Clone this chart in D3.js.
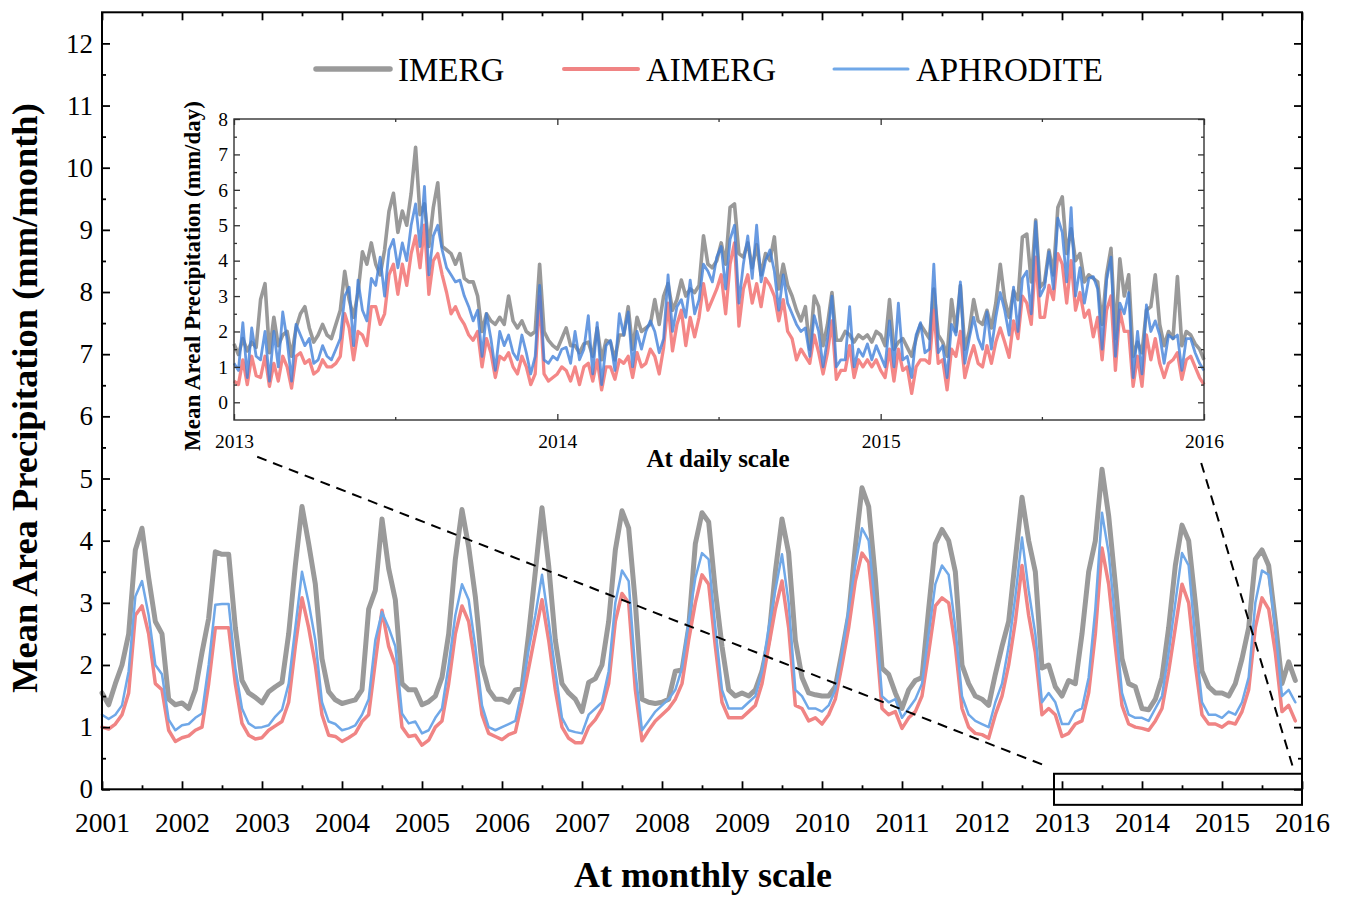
<!DOCTYPE html>
<html>
<head>
<meta charset="utf-8">
<script src="https://cdn.jsdelivr.net/npm/d3@7"></script>
<style>
  body { margin: 0; background: #fff; }
  text { font-family: "Liberation Serif", "Times New Roman", serif; fill: #000; }
</style>
</head>
<body>
<svg id="chart" width="1348" height="898"></svg>
<script>
// ---------- monthly mean area precipitation, Jan 2001 – Dec 2015 ----------
const startYear = 2001;
const endYear = 2016;
const yearTicks = d3.range(2001, 2017);

const imergMonthly = [
  1.55,1.36,1.7,2.0,2.5,3.85,4.2,3.4,2.7,2.5,1.45,1.36,
  1.39,1.3,1.6,2.2,2.75,3.82,3.78,3.78,2.6,1.75,1.55,1.48,
  1.39,1.57,1.65,1.72,2.5,3.6,4.55,3.95,3.3,2.1,1.57,1.44,
  1.38,1.41,1.44,1.6,2.9,3.2,4.35,3.55,3.05,1.7,1.6,1.6,
  1.36,1.41,1.5,1.8,2.5,3.7,4.5,3.9,3.1,2.0,1.6,1.45,
  1.45,1.4,1.6,1.62,2.5,3.5,4.53,3.6,2.4,1.7,1.55,1.45,
  1.25,1.72,1.78,2.0,2.7,3.85,4.48,4.2,3.0,1.45,1.4,1.38,
  1.4,1.45,1.9,1.92,2.6,3.95,4.45,4.3,3.2,2.3,1.6,1.5,
  1.55,1.5,1.6,1.9,2.4,3.5,4.35,3.8,2.4,1.8,1.55,1.52,
  1.5,1.5,1.65,2.2,2.8,3.9,4.85,4.55,3.4,1.95,1.85,1.55,
  1.3,1.6,1.75,1.8,2.9,3.95,4.18,4.0,3.5,2.0,1.7,1.5,
  1.45,1.35,1.85,2.3,2.7,3.7,4.7,4.0,3.5,1.95,2.0,1.65,
  1.5,1.75,1.7,2.5,3.5,4.0,5.15,4.4,3.3,2.1,1.7,1.65,
  1.3,1.28,1.45,1.8,2.6,3.6,4.25,4.0,3.0,1.9,1.65,1.55,
  1.55,1.5,1.7,2.1,2.6,3.7,3.85,3.6,2.7,1.7,2.05,1.75
];
const aimergMonthly = [
  1.0,0.97,1.05,1.2,1.55,2.8,2.95,2.5,1.7,1.6,0.95,0.77,
  0.83,0.86,0.95,1.0,1.7,2.6,2.6,2.6,1.7,1.06,0.87,0.81,
  0.83,0.95,1.02,1.09,1.4,2.3,3.08,2.6,2.0,1.2,0.87,0.85,
  0.77,0.83,0.9,1.09,1.2,2.05,2.88,2.3,2.0,1.0,0.85,0.87,
  0.71,0.79,1.0,1.1,1.7,2.5,2.95,2.7,2.0,1.2,0.9,0.85,
  0.8,0.88,0.92,1.4,1.95,2.5,3.05,2.4,1.6,1.0,0.82,0.75,
  0.75,1.0,1.12,1.3,1.7,2.7,3.15,3.0,1.6,0.78,0.95,1.1,
  1.2,1.3,1.45,1.7,2.4,3.0,3.45,3.3,2.3,1.4,1.15,1.15,
  1.15,1.25,1.35,1.7,2.3,2.9,3.35,2.6,1.35,1.3,1.1,1.15,
  1.05,1.2,1.45,2.0,2.6,3.35,3.8,3.65,2.6,1.3,1.2,1.25,
  0.98,1.15,1.25,1.5,2.2,2.95,3.08,3.0,2.3,1.3,1.0,0.9,
  0.88,0.82,1.2,1.5,2.0,2.7,3.6,2.8,2.2,1.2,1.3,1.2,
  0.85,0.9,1.05,1.1,1.55,2.5,3.88,3.3,2.3,1.35,1.05,1.0,
  0.98,0.95,1.1,1.3,1.9,2.6,3.3,3.0,2.0,1.2,1.05,1.05,
  1.0,1.08,1.05,1.25,1.6,2.6,3.08,2.9,2.2,1.25,1.35,1.1
];
const aphroditeMonthly = [
  1.2,1.13,1.2,1.35,1.9,3.1,3.35,2.8,2.0,1.85,1.12,0.95,
  1.03,1.05,1.15,1.22,2.0,2.97,2.98,2.98,1.95,1.3,1.06,0.99,
  1.0,1.03,1.17,1.28,1.7,2.6,3.5,3.0,2.4,1.4,1.09,1.05,
  0.95,0.98,1.03,1.2,1.45,2.4,2.85,2.6,2.3,1.22,1.06,1.09,
  0.9,0.95,1.15,1.3,2.0,2.8,3.3,3.05,2.3,1.35,1.0,0.95,
  1.0,1.05,1.1,1.6,2.25,2.8,3.45,2.7,1.9,1.15,0.95,0.92,
  0.9,1.2,1.3,1.4,1.9,3.0,3.52,3.35,1.9,0.95,1.1,1.25,
  1.35,1.45,1.6,1.95,2.7,3.4,3.8,3.7,2.6,1.6,1.3,1.3,
  1.3,1.4,1.5,1.9,2.6,3.2,3.78,3.0,1.6,1.5,1.3,1.3,
  1.25,1.35,1.6,2.2,2.9,3.6,4.2,4.0,2.9,1.5,1.4,1.45,
  1.15,1.3,1.45,1.7,2.5,3.3,3.6,3.45,2.6,1.5,1.2,1.1,
  1.05,1.0,1.4,1.7,2.3,3.1,4.05,3.2,2.5,1.4,1.55,1.4,
  1.05,1.05,1.25,1.3,1.8,2.9,4.45,3.8,2.7,1.55,1.2,1.15,
  1.15,1.1,1.3,1.5,2.2,3.0,3.8,3.6,2.4,1.4,1.2,1.2,
  1.15,1.25,1.2,1.4,1.8,3.0,3.52,3.45,2.6,1.5,1.6,1.4
];

// ---------- daily mean areal precipitation, 2013 – 2015, one value every 5 days ----------
const dailyStart = new Date(2013, 0, 1);
const dailyEnd = new Date(2016, 0, 1);
const dailyStepDays = 5;
const insetYearTicks = [2013, 2014, 2015, 2016];

const imergDaily = [
  1.65,1.35,1.8,1.45,1.7,1.55,2.9,3.35,1.4,2.4, 1.6,1.9,2.0,1.3,2.1,2.5,2.7,2.1,1.7,1.9,
  2.2,1.9,1.8,2.2,2.6,3.7,2.9,2.4,3.1,4.25, 3.9,4.5,3.9,3.6,4.3,5.4,5.9,4.8,5.4,5.0,
  5.9,7.2,5.3,5.6,4.4,5.5,6.2,4.4,4.3,4.2, 3.9,4.2,3.5,3.4,3.4,3.0,2.0,2.5,2.3,2.2,
  2.4,2.2,3.0,2.3,2.1,2.3,2.0,1.9,2.0,3.9, 2.0,1.75,1.6,1.5,1.8,2.1,1.6,1.6,1.4,1.65,
  1.7,1.3,2.1,1.2,1.75,1.7,1.2,1.9,1.9,2.7, 1.5,2.4,2.0,2.1,2.2,2.9,2.2,3.0,3.35,2.6,
  2.9,3.45,3.0,3.2,3.1,3.3,4.7,3.9,3.8,4.0, 4.5,3.9,5.5,5.6,4.2,4.1,4.5,3.8,4.45,3.6,
  4.2,4.0,4.67,3.2,3.9,3.3,3.0,2.6,2.3,2.7, 1.5,3.0,2.7,1.6,2.2,3.1,1.75,1.75,2.0,1.9,
  1.7,1.9,1.8,1.9,1.7,2.0,1.9,1.6,2.9,1.5, 1.7,1.8,1.55,1.3,1.8,2.2,2.0,1.8,3.2,1.9,
  1.7,1.3,2.9,2.0,3.3,1.5,2.0,2.9,2.3,2.2, 2.6,2.1,2.8,3.9,2.9,2.4,3.15,2.9,4.67,4.75,
  3.4,5.15,3.25,3.4,4.3,3.6,5.5,5.8,4.2,4.9, 4.0,4.2,3.4,3.6,3.5,3.4,2.2,3.6,4.35,1.8,
  4.05,3.0,3.6,1.3,1.7,1.4,2.6,2.7,3.6,2.2, 1.6,2.0,1.8,3.55,1.6,2.0,1.9,1.65,1.5,1.2
];
const aimergDaily = [
  0.6,0.5,1.2,0.5,1.3,0.75,0.7,1.3,0.45,1.1, 0.6,1.3,1.0,0.4,1.3,1.4,1.1,1.2,0.8,0.9,
  1.2,1.0,1.0,1.1,1.3,2.5,2.1,1.2,2.0,1.9, 1.6,2.7,2.7,2.2,2.5,3.6,3.9,3.05,3.9,3.3,
  4.2,4.7,3.8,5.0,3.05,4.0,4.2,3.6,3.1,2.5, 2.7,2.4,2.2,1.9,1.75,2.0,1.0,1.8,1.4,0.7,
  1.3,1.2,1.4,1.0,0.8,1.3,1.0,0.5,0.8,3.0, 0.8,0.6,0.7,0.8,1.0,0.9,0.6,1.0,0.5,1.0,
  1.1,0.6,1.2,0.35,1.0,1.0,0.65,1.2,1.1,1.3, 0.7,1.4,1.0,1.1,1.5,1.3,0.8,1.55,2.8,1.45,
  2.2,2.6,1.6,2.4,1.85,2.4,3.35,2.6,2.9,3.2, 3.6,2.5,3.9,4.5,2.15,3.2,3.6,2.8,3.35,2.7,
  3.5,3.3,3.0,2.3,2.9,2.0,1.8,1.2,1.5,1.3, 1.1,1.9,1.4,0.8,1.4,2.3,0.65,0.9,0.9,1.6,
  0.7,1.2,1.0,1.2,1.0,1.2,0.9,0.7,1.5,0.6, 1.5,0.9,1.0,0.25,1.0,1.2,1.2,1.1,2.6,1.1,
  1.2,0.35,1.5,1.3,2.0,0.7,1.2,1.6,1.1,1.0, 1.6,1.1,1.7,2.1,1.7,1.27,2.3,1.8,3.0,2.8,
  2.2,4.1,2.4,2.4,3.3,2.9,4.2,3.9,2.8,4.0, 2.6,3.1,2.4,2.6,1.85,2.4,1.2,2.6,3.0,0.9,
  2.6,2.0,2.0,0.45,1.3,0.45,1.9,1.2,1.8,1.1, 0.7,1.1,1.2,1.4,0.65,1.2,1.3,1.0,0.7,0.5
];
const aphroditeDaily = [
  1.1,0.9,2.25,0.7,2.1,1.3,1.2,2.0,0.6,2.0, 1.0,2.55,1.75,0.6,2.2,1.9,1.6,1.8,1.1,1.2,
  1.6,1.3,1.2,1.5,1.8,3.0,3.25,1.6,3.45,2.6, 2.3,3.5,3.3,4.1,3.0,4.3,4.6,3.8,4.5,4.0,
  5.0,5.6,4.4,6.1,3.6,4.7,5.0,4.3,3.8,3.6, 3.4,3.45,3.0,2.7,2.3,2.6,1.3,2.5,1.8,0.9,
  2.0,1.6,1.9,1.4,1.2,1.9,1.4,0.8,1.3,3.3, 1.2,1.1,1.3,1.2,1.5,1.55,1.1,2.0,1.2,1.5,
  2.45,0.8,2.25,0.5,1.6,1.75,0.9,2.5,1.9,2.55, 1.0,2.0,1.5,2.0,2.3,2.0,1.4,1.8,3.6,2.0,
  2.7,2.9,2.4,3.45,2.5,2.9,3.9,3.7,3.4,4.1, 4.4,3.2,4.6,5.0,2.8,3.9,4.7,3.5,5.0,3.4,
  4.0,4.3,3.7,2.6,3.6,2.8,2.5,2.2,2.0,2.1, 1.3,2.45,2.0,1.0,1.8,3.0,1.0,1.2,1.2,2.7,
  1.0,1.5,1.3,1.65,1.2,1.6,1.3,1.0,2.3,1.0, 2.8,1.2,1.3,0.7,1.9,2.25,1.4,1.5,3.9,1.4,
  1.6,0.7,2.2,1.9,3.4,1.1,1.8,2.4,1.8,1.5, 2.55,1.5,2.4,3.1,2.6,1.9,3.25,2.0,3.5,3.7,
  2.5,5.1,3.0,3.25,4.25,3.2,5.2,4.8,3.4,5.5, 3.0,3.8,2.8,3.5,3.55,3.2,1.5,3.45,4.1,1.3,
  2.8,2.5,3.1,0.7,2.0,0.8,2.75,2.0,2.3,1.9, 1.1,1.9,1.8,1.9,0.9,1.8,1.8,1.4,1.1,0.9
];

// zoom box (main-chart units) and its connector lines to the inset
const zoomBox = { x0: 2012.9, x1: 2016, y0: -0.25, y1: 0.25 };
const connectors = [
  [[2002.94, 5.35], [2012.81, 0.37]],
  [[2014.74, 5.25], [2015.89, 0.34]]
];

const seriesNames = ["IMERG", "AIMERG", "APHRODITE"];

// ---------- drawing ----------
const svg = d3.select("#chart");

const mainColor = { IMERG: "#9a9a9a", AIMERG: "#f08484", APHRODITE: "#70a8e8" };
const mainWidth = { IMERG: 5, AIMERG: 3.5, APHRODITE: 2.5 };
const insetColor = { IMERG: "#8e8e8e", AIMERG: "#f27272", APHRODITE: "#3d7ed8" };
const insetOpacity = { IMERG: 0.9, AIMERG: 0.85, APHRODITE: 0.78 };
const insetWidth = { IMERG: 3.6, AIMERG: 3.3, APHRODITE: 2.8 };

const M = { left: 102, right: 1302, top: 12.3, bottom: 789.3 };
const x = d3.scaleLinear().domain([startYear, endYear]).range([M.left, M.right]);
const y = d3.scaleLinear().domain([0, 12.5]).range([M.bottom, M.top]);

const monthly = [
  { name: "IMERG", values: imergMonthly },
  { name: "AIMERG", values: aimergMonthly },
  { name: "APHRODITE", values: aphroditeMonthly }
];

const lineMonthly = d3.line()
  .x((d, i) => x(startYear + i / 12))
  .y(d => y(d));

svg.append("g").attr("class", "monthly-lines")
  .selectAll("path").data(monthly).join("path")
  .attr("d", d => lineMonthly(d.values))
  .attr("fill", "none")
  .attr("stroke", d => mainColor[d.name])
  .attr("stroke-width", d => mainWidth[d.name])
  .attr("stroke-linejoin", "round")
  .attr("stroke-linecap", "round");

// main axes, ticks pointing inward
function styleAxis(g, fontSize) {
  g.select(".domain").remove();
  g.selectAll(".tick line").attr("stroke", "#000").attr("stroke-width", 1.8);
  g.selectAll(".tick text")
    .style("font-family", '"Liberation Serif", "Times New Roman", serif')
    .style("font-size", fontSize + "px")
    .attr("fill", "#000");
}

const halfYears = d3.range(startYear + 0.5, endYear, 1);
const yMajor = d3.range(0, 13, 1);
const yMinor = d3.range(0.5, 12.5, 1);

svg.append("g").attr("transform", `translate(${M.left},0)`)
  .call(d3.axisLeft(y).tickValues(yMajor).tickSize(-8).tickPadding(9).tickFormat(d3.format("d")))
  .call(g => styleAxis(g, 27));
svg.append("g").attr("transform", `translate(${M.left},0)`)
  .call(d3.axisLeft(y).tickValues(yMinor).tickSize(-4).tickFormat(""))
  .call(g => styleAxis(g, 27));
svg.append("g").attr("transform", `translate(${M.right},0)`)
  .call(d3.axisRight(y).tickValues(yMajor).tickSize(-8).tickFormat(""))
  .call(g => styleAxis(g, 27));
svg.append("g").attr("transform", `translate(${M.right},0)`)
  .call(d3.axisRight(y).tickValues(yMinor).tickSize(-4).tickFormat(""))
  .call(g => styleAxis(g, 27));

svg.append("g").attr("transform", `translate(0,${M.bottom})`)
  .call(d3.axisBottom(x).tickValues(yearTicks).tickSize(-8).tickPadding(23).tickFormat(d3.format("d")))
  .call(g => styleAxis(g, 27.5));
svg.append("g").attr("transform", `translate(0,${M.bottom})`)
  .call(d3.axisBottom(x).tickValues(halfYears).tickSize(-4).tickFormat(""))
  .call(g => styleAxis(g, 27));
svg.append("g").attr("transform", `translate(0,${M.top})`)
  .call(d3.axisTop(x).tickValues(yearTicks).tickSize(-8).tickFormat(""))
  .call(g => styleAxis(g, 27));
svg.append("g").attr("transform", `translate(0,${M.top})`)
  .call(d3.axisTop(x).tickValues(halfYears).tickSize(-4).tickFormat(""))
  .call(g => styleAxis(g, 27));

svg.append("rect")
  .attr("x", M.left).attr("y", M.top)
  .attr("width", M.right - M.left).attr("height", M.bottom - M.top)
  .attr("fill", "none").attr("stroke", "#000").attr("stroke-width", 2);

// axis titles
svg.append("text")
  .attr("transform", `translate(37,398) rotate(-90)`)
  .attr("text-anchor", "middle")
  .style("font-weight", "bold").style("font-size", "36.5px")
  .text("Mean Area Precipitation (mm/month)");
svg.append("text")
  .attr("x", 703).attr("y", 887)
  .attr("text-anchor", "middle")
  .style("font-weight", "bold").style("font-size", "36px")
  .text("At monthly scale");

// zoom box and dashed connectors
svg.append("rect")
  .attr("x", x(zoomBox.x0)).attr("y", y(zoomBox.y1))
  .attr("width", x(zoomBox.x1) - x(zoomBox.x0))
  .attr("height", y(zoomBox.y0) - y(zoomBox.y1))
  .attr("fill", "none").attr("stroke", "#000").attr("stroke-width", 2);

svg.append("g").selectAll("line").data(connectors).join("line")
  .attr("x1", d => x(d[0][0])).attr("y1", d => y(d[0][1]))
  .attr("x2", d => x(d[1][0])).attr("y2", d => y(d[1][1]))
  .attr("stroke", "#000").attr("stroke-width", 2)
  .attr("stroke-dasharray", "10,7");

// ---------- inset: daily scale ----------
const I = { left: 234, right: 1204, top: 119, bottom: 420 };
const xi = d3.scaleTime().domain([dailyStart, dailyEnd]).range([I.left, I.right]);
const yi = d3.scaleLinear().domain([-0.5, 8]).range([I.bottom, I.top]);

const inset = svg.append("g").attr("class", "inset");
inset.append("rect")
  .attr("x", I.left).attr("y", I.top)
  .attr("width", I.right - I.left).attr("height", I.bottom - I.top)
  .attr("fill", "#fff");

const daily = [
  { name: "IMERG", values: imergDaily },
  { name: "AIMERG", values: aimergDaily },
  { name: "APHRODITE", values: aphroditeDaily }
];
const lineDaily = d3.line()
  .x((d, i) => xi(d3.timeDay.offset(dailyStart, i * dailyStepDays)))
  .y(d => yi(d));

inset.append("g").selectAll("path").data(daily).join("path")
  .attr("d", d => lineDaily(d.values))
  .attr("fill", "none")
  .attr("stroke", d => insetColor[d.name])
  .attr("stroke-opacity", d => insetOpacity[d.name])
  .attr("stroke-width", d => insetWidth[d.name])
  .attr("stroke-linejoin", "round");

function styleInsetAxis(g) {
  g.select(".domain").remove();
  g.selectAll(".tick line").attr("stroke", "#333").attr("stroke-width", 1.3);
  g.selectAll(".tick text")
    .style("font-family", '"Liberation Serif", "Times New Roman", serif')
    .style("font-size", "19.5px")
    .attr("fill", "#000");
}

const insetYears = insetYearTicks.map(yr => new Date(yr, 0, 1));
const insetHalf = [2013, 2014, 2015].map(yr => new Date(yr, 6, 2));
const yiMajor = d3.range(0, 9, 1);
const yiMinor = d3.range(0.5, 8, 1);

inset.append("g").attr("transform", `translate(${I.left},0)`)
  .call(d3.axisLeft(yi).tickValues(yiMajor).tickSize(-6).tickPadding(6).tickFormat(d3.format("d")))
  .call(styleInsetAxis);
inset.append("g").attr("transform", `translate(${I.left},0)`)
  .call(d3.axisLeft(yi).tickValues(yiMinor).tickSize(-3).tickFormat(""))
  .call(styleInsetAxis);
inset.append("g").attr("transform", `translate(${I.right},0)`)
  .call(d3.axisRight(yi).tickValues(yiMajor).tickSize(-6).tickFormat(""))
  .call(styleInsetAxis);
inset.append("g").attr("transform", `translate(${I.right},0)`)
  .call(d3.axisRight(yi).tickValues(yiMinor).tickSize(-3).tickFormat(""))
  .call(styleInsetAxis);
inset.append("g").attr("transform", `translate(0,${I.bottom})`)
  .call(d3.axisBottom(xi).tickValues(insetYears).tickSize(-6).tickPadding(14).tickFormat(d3.timeFormat("%Y")))
  .call(styleInsetAxis);
inset.append("g").attr("transform", `translate(0,${I.bottom})`)
  .call(d3.axisBottom(xi).tickValues(insetHalf).tickSize(-3).tickFormat(""))
  .call(styleInsetAxis);
inset.append("g").attr("transform", `translate(0,${I.top})`)
  .call(d3.axisTop(xi).tickValues(insetYears).tickSize(-6).tickFormat(""))
  .call(styleInsetAxis);
inset.append("g").attr("transform", `translate(0,${I.top})`)
  .call(d3.axisTop(xi).tickValues(insetHalf).tickSize(-3).tickFormat(""))
  .call(styleInsetAxis);

inset.append("rect")
  .attr("x", I.left).attr("y", I.top)
  .attr("width", I.right - I.left).attr("height", I.bottom - I.top)
  .attr("fill", "none").attr("stroke", "#333").attr("stroke-width", 1.4);

inset.append("text")
  .attr("transform", `translate(200,276) rotate(-90)`)
  .attr("text-anchor", "middle")
  .style("font-weight", "bold").style("font-size", "23px")
  .text("Mean Areal Precipitation (mm/day)");
inset.append("text")
  .attr("x", 718).attr("y", 467)
  .attr("text-anchor", "middle")
  .style("font-weight", "bold").style("font-size", "25px")
  .text("At daily scale");

// ---------- legend ----------
const legendItems = [
  { name: "IMERG", x: 316 },
  { name: "AIMERG", x: 564 },
  { name: "APHRODITE", x: 834 }
];
const legend = svg.append("g").attr("class", "legend");
const item = legend.selectAll("g").data(legendItems).join("g")
  .attr("transform", d => `translate(${d.x},69)`);
item.append("line")
  .attr("x1", 0).attr("x2", 74).attr("y1", 0).attr("y2", 0)
  .attr("stroke", d => mainColor[d.name])
  .attr("stroke-width", d => mainWidth[d.name] + 0.5)
  .attr("stroke-linecap", "round");
item.append("text")
  .attr("x", 82).attr("y", 12)
  .style("font-size", "33px")
  .text(d => d.name);
</script>
</body>
</html>
